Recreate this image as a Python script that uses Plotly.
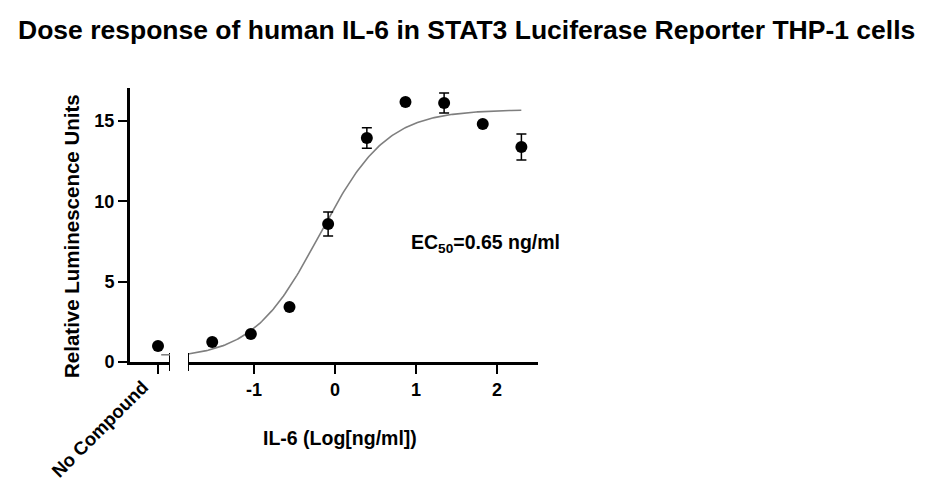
import numpy as np
import plotly.graph_objects as go

# ---- data ----
title_text = "Dose response of human IL-6 in STAT3 Luciferase Reporter THP-1 cells"
control_label = ["No Compound"]
control_rlu = [1.0]
control_err = [0.0]

log_dose = [-1.516, -1.039, -0.562, -0.085, 0.393, 0.870, 1.347, 1.824, 2.301]
rlu = [1.24, 1.74, 3.42, 8.59, 13.94, 16.18, 16.12, 14.81, 13.38]
rlu_err = [0.0, 0.0, 0.0, 0.75, 0.64, 0.0, 0.62, 0.0, 0.81]

x_ticks = [-1, 0, 1, 2]
y_ticks = [0, 5, 10, 15]

# 4-parameter logistic fit parameters
fit_bottom = 0.2
fit_top = 15.7
fit_log_ec50 = np.log10(0.65)
fit_hill = 1.05

OFF = 8  # default page body margin
W, H = 927 - OFF, 500 - OFF
FONT = "Arial, Liberation Sans, sans-serif"

def px_x(p):
    return (p - OFF) / W

def px_y(p):
    return (H - (p - OFF)) / H

xc = np.linspace(-1.815, 2.3, 200)
yc = fit_bottom + (fit_top - fit_bottom) / (1 + 10 ** ((fit_log_ec50 - xc) * fit_hill))

fig = go.Figure()

fig.add_trace(go.Scatter(x=xc, y=yc, mode="lines", xaxis="x2", yaxis="y",
                         line=dict(color="#7f7f7f", width=1.6), hoverinfo="skip",
                         showlegend=False))
fig.add_trace(go.Scatter(x=log_dose, y=rlu, mode="markers", xaxis="x2", yaxis="y",
                         marker=dict(color="black", size=12),
                         error_y=dict(type="data", array=rlu_err, visible=True,
                                      color="black", thickness=1.5, width=5),
                         showlegend=False))
fig.add_trace(go.Scatter(x=[0], y=control_rlu, mode="markers", xaxis="x", yaxis="y",
                         marker=dict(color="black", size=12),
                         error_y=dict(type="data", array=control_err, visible=True,
                                      color="black", thickness=1.5, width=5),
                         showlegend=False))

axis_common = dict(showline=True, linecolor="black", linewidth=3, ticks="outside",
                   ticklen=9, tickwidth=2, tickcolor="black", showgrid=False,
                   zeroline=False, automargin=False)
tick_font = dict(family=FONT, size=18, color="black", weight="bold")

fig.update_layout(
    template="none",
    width=W, height=H,
    margin=dict(l=0, r=0, t=0, b=0, autoexpand=False),
    paper_bgcolor="white", plot_bgcolor="white",
    xaxis=dict(domain=[px_x(130), px_x(170)], range=[-0.7, 0.3], anchor="y",
               tickvals=[0], showticklabels=False, **axis_common),
    xaxis2=dict(domain=[px_x(188), px_x(538)], range=[-1.815, 2.506], anchor="y",
                tickvals=x_ticks, ticktext=[str(v) for v in x_ticks],
                tickfont=tick_font, **axis_common),
    yaxis=dict(domain=[px_y(362), px_y(88)], range=[0, 17.05], anchor="x",
               tickvals=y_ticks, tickfont=tick_font, **axis_common),
    shapes=[
        dict(type="line", xref="x", yref="paper", x0=0.3, x1=0.3,
             y0=px_y(353), y1=px_y(371), line=dict(color="black", width=2)),
        dict(type="line", xref="x2", yref="paper", x0=-1.815, x1=-1.815,
             y0=px_y(353), y1=px_y(371), line=dict(color="black", width=2)),
        dict(type="line", xref="x", yref="y", x0=0.08, x1=0.3,
             y0=0.45, y1=0.45, line=dict(color="#7f7f7f", width=1.6)),
    ],
    annotations=[
        dict(text="<b>" + title_text + "</b>", xref="paper", yref="paper",
             x=px_x(466), y=px_y(30), showarrow=False, xanchor="center", yanchor="middle",
             font=dict(family=FONT, size=26.5, color="black")),
        dict(text="<b>" + control_label[0] + "</b>", xref="paper", yref="paper",
             x=px_x(99), y=px_y(429), showarrow=False, textangle=-45,
             xanchor="center", yanchor="middle",
             font=dict(family=FONT, size=18.5, color="black")),
        dict(text="<b>Relative Luminescence Units</b>", xref="paper", yref="paper",
             x=px_x(72), y=px_y(236), showarrow=False, textangle=-90,
             xanchor="center", yanchor="middle",
             font=dict(family=FONT, size=20.5, color="black")),
        dict(text="<b>IL-6 (Log[ng/ml])</b>", xref="paper", yref="paper",
             x=px_x(340), y=px_y(438), showarrow=False, xanchor="center", yanchor="middle",
             font=dict(family=FONT, size=19.5, color="black")),
        dict(text="<b>EC<sub>50</sub>=0.65 ng/ml</b>", xref="paper", yref="paper",
             x=px_x(485), y=px_y(243), showarrow=False, xanchor="center", yanchor="middle",
             font=dict(family=FONT, size=19.5, color="black")),
    ],
)

fig.write_html("out.html")
